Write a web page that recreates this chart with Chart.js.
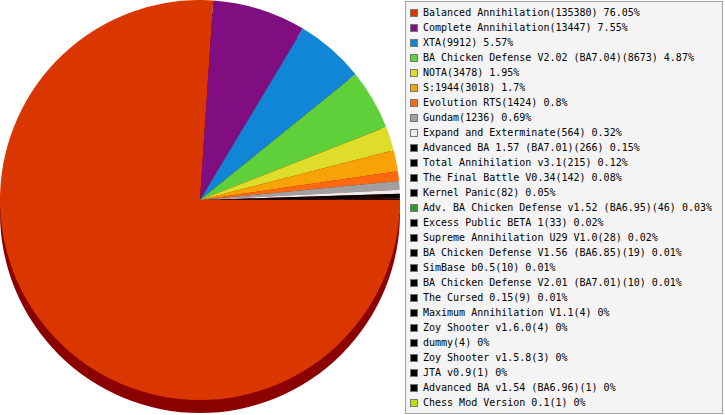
<!DOCTYPE html>
<html>
<head>
<meta charset="utf-8">
<script src="https://cdn.jsdelivr.net/npm/chart.js"></script>
<style>
  body { margin: 0; background: #fff; }
  #wrap { position: relative; width: 725px; height: 415px; }
  #pie { position: absolute; left: 0; top: 0; }
  #legend {
    position: absolute; left: 405px; top: 1px; width: 318px; height: 413px;
    box-sizing: border-box; border: 1px solid #a0a0a0; background: #f4f4f4;
    margin: 0; padding: 3px 0 0 4px; list-style: none;
    font: 10px "DejaVu Sans Mono", monospace; color: #000;
  }
  #legend li { height: 15px; line-height: 15px; white-space: nowrap; display: flex; align-items: center; }
  #legend .box { width: 8px; height: 8px; box-sizing: border-box; border: 1px solid #777; margin-right: 5px; flex: none; }
</style>
</head>
<body>
<div id="wrap">
  <canvas id="pie" width="400" height="415"></canvas>
  <ul id="legend"></ul>
</div>
<script>
// mods and how many games were played with each
var mods = [
  "Balanced Annihilation", "Complete Annihilation", "XTA",
  "BA Chicken Defense V2.02 (BA7.04)", "NOTA", "S:1944", "Evolution RTS",
  "Gundam", "Expand and Exterminate", "Advanced BA 1.57 (BA7.01)",
  "Total Annihilation v3.1", "The Final Battle V0.34", "Kernel Panic",
  "Adv. BA Chicken Defense v1.52 (BA6.95)", "Excess Public BETA 1",
  "Supreme Annihilation U29 V1.0", "BA Chicken Defense V1.56 (BA6.85)",
  "SimBase b0.5", "BA Chicken Defense V2.01 (BA7.01)", "The Cursed 0.15",
  "Maximum Annihilation V1.1", "Zoy Shooter v1.6.0", "dummy",
  "Zoy Shooter v1.5.8", "JTA v0.9", "Advanced BA v1.54 (BA6.96)",
  "Chess Mod Version 0.1"
];
var games = [
  135380, 13447, 9912, 8673, 3478, 3018, 1424, 1236, 564, 266, 215, 142, 82,
  46, 33, 28, 19, 10, 10, 9, 4, 4, 4, 3, 1, 1, 1
];
var colors = [
  "#d93600", "#800e80", "#1185d6", "#60d03a", "#dede2a", "#f7a308", "#ff6a10",
  "#a0a0a0", "#ececec", "#000000", "#000000", "#000000", "#000000",
  "#2e9a2e", "#000000", "#000000", "#000000", "#000000", "#000000", "#000000",
  "#000000", "#000000", "#000000", "#000000", "#000000", "#000000", "#b8e000"
];

// dark extrusion under the pie
var pieDepth = {
  id: "pieDepth",
  beforeDatasetsDraw: function(chart, args, opts) {
    var ctx = chart.ctx;
    ctx.save();
    ctx.fillStyle = opts.color;
    chart.getDatasetMeta(0).data.forEach(function(arc) {
      ctx.beginPath();
      ctx.moveTo(arc.x, arc.y + opts.depth);
      ctx.arc(arc.x, arc.y + opts.depth, arc.outerRadius, arc.startAngle, arc.endAngle);
      ctx.closePath();
      ctx.fill();
    });
    ctx.restore();
  }
};

// legend as html list
var htmlLegend = {
  id: "htmlLegend",
  afterUpdate: function(chart) {
    var ul = document.getElementById("legend");
    ul.innerHTML = "";
    var data = chart.data.datasets[0].data;
    var total = data.reduce(function(a, b) { return a + b; }, 0);
    chart.data.labels.forEach(function(label, i) {
      var pct = parseFloat((data[i] / total * 100).toFixed(2));
      var li = document.createElement("li");
      var box = document.createElement("span");
      box.className = "box";
      box.style.background = chart.data.datasets[0].backgroundColor[i];
      li.appendChild(box);
      li.appendChild(document.createTextNode(label + "(" + data[i] + ") " + pct + "%"));
      ul.appendChild(li);
    });
  }
};

new Chart(document.getElementById("pie"), {
  type: "pie",
  data: {
    labels: mods,
    datasets: [{
      data: games,
      backgroundColor: colors,
      borderWidth: 0,
      hoverOffset: 0
    }]
  },
  options: {
    responsive: false,
    animation: false,
    rotation: 90,
    layout: { padding: { bottom: 15 } },
    plugins: {
      legend: { display: false },
      tooltip: { enabled: false },
      pieDepth: { depth: 13, color: "#8b0000" }
    }
  },
  plugins: [pieDepth, htmlLegend]
});
</script>
</body>
</html>
